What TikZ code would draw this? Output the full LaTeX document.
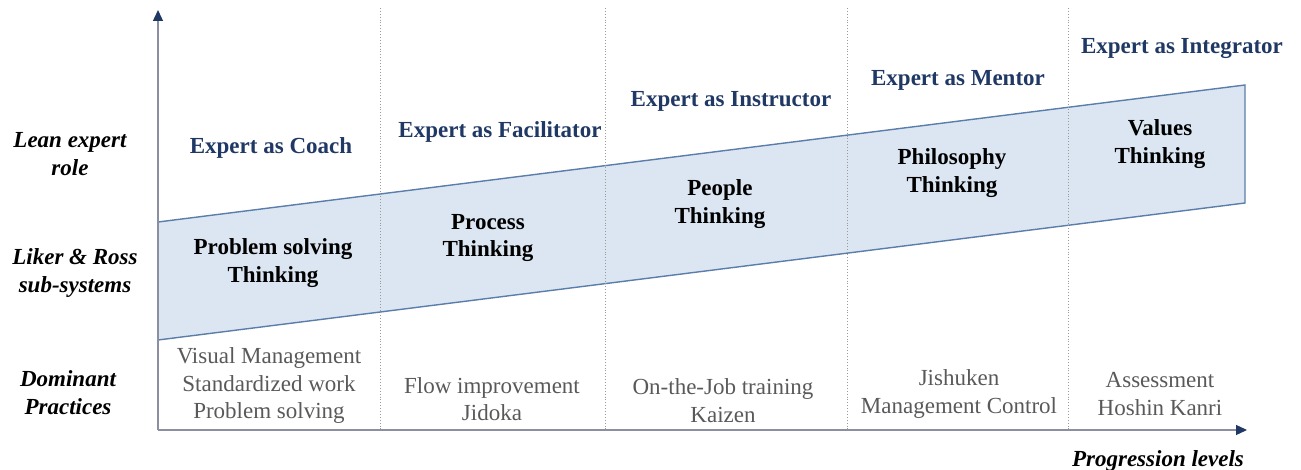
\documentclass[tikz,border=0pt]{standalone}
\usepackage{fontspec}
\setmainfont{Liberation Serif}
\usetikzlibrary{arrows.meta}
\definecolor{navy}{HTML}{1F3864}
\definecolor{txtgray}{HTML}{595959}
\definecolor{axisgray}{HTML}{8C8FA0}
\definecolor{bandfill}{HTML}{DCE6F2}
\definecolor{bandline}{HTML}{5A7DAA}
\definecolor{dotgray}{HTML}{9A9A9A}
\begin{document}
\begin{tikzpicture}[x=1pt,y=-1pt,
  every node/.style={inner sep=0pt,outer sep=0pt,align=center},
  base/.style={font=\fontsize{23}{27.5}\selectfont},
  rolelbl/.style={base,font=\fontsize{23}{27.5}\selectfont\bfseries\itshape,text=black},
  expert/.style={base,font=\fontsize{23}{27.5}\selectfont\bfseries,text=navy},
  think/.style={base,font=\fontsize{23}{27.5}\selectfont\bfseries,text=black},
  practice/.style={base,font=\fontsize{23}{27.5}\selectfont,text=txtgray},
  sep/.style={dotgray,dotted,line width=0.9pt},
  axis/.style={axisgray,line width=1.3pt,-{Triangle[color=navy,length=11pt,width=10pt]}}
]
\useasboundingbox (0,0) rectangle (1301,470);

% band
\coordinate (bl) at (158,340);
\coordinate (tl) at (158,222);
\coordinate (tr) at (1245,85);
\coordinate (br) at (1245,203);
\filldraw[fill=bandfill,draw=bandline,line width=1.4pt] (bl) -- (tl) -- (tr) -- (br) -- cycle;

% separators
\foreach \x/\n in {380/s1,605/s2,847/s3,1068/s4}{
  \coordinate (\n t) at (\x,8);
  \coordinate (\n b) at (\x,430);
  \draw[sep] (\n t) -- (\n b);
}

% axes
\coordinate (origin) at (158,430);
\coordinate (yend) at (158,10);
\coordinate (xend) at (1247,430);
\draw[axis] (origin) -- (yend);
\draw[axis] (origin) -- (xend);

% left labels
\node[rolelbl] (l1) at (70,154) {Lean expert\\role};
\node[rolelbl] (l2) at (75,273) {Liker \& Ross\\sub-systems};
\node[rolelbl] (l3) at (68,392.5) {Dominant\\Practices};
\node[rolelbl] (l4) at (1158,461) {Progression levels};

% expert roles
\node[expert] (e1) at (271,148) {Expert as Coach};
\node[expert] (e2) at (500,132) {Expert as Facilitator};
\node[expert] (e3) at (731,101) {Expert as Instructor};
\node[expert] (e4) at (958,80) {Expert as Mentor};
\node[expert] (e5) at (1182,49) {Expert as Integrator};

% thinking
\node[think] (t1) at (273,263) {Problem solving\\Thinking};
\node[think] (t2) at (488,238) {Process\\Thinking};
\node[think] (t3) at (720,204) {People\\Thinking};
\node[think] (t4) at (952,173) {Philosophy\\Thinking};
\node[think] (t5) at (1160,144) {Values\\Thinking};

% practices
\node[practice] (p1) at (269,386) {Visual Management\\Standardized work\\Problem solving};
\node[practice] (p2) at (492,399) {Flow improvement\\Jidoka};
\node[practice] (p3) at (723,400.5) {On-the-Job training\\Kaizen};
\node[practice] (p4) at (959,394) {Jishuken\\Management Control};
\node[practice] (p5) at (1160,394) {Assessment\\Hoshin Kanri};
\end{tikzpicture}
\end{document}
